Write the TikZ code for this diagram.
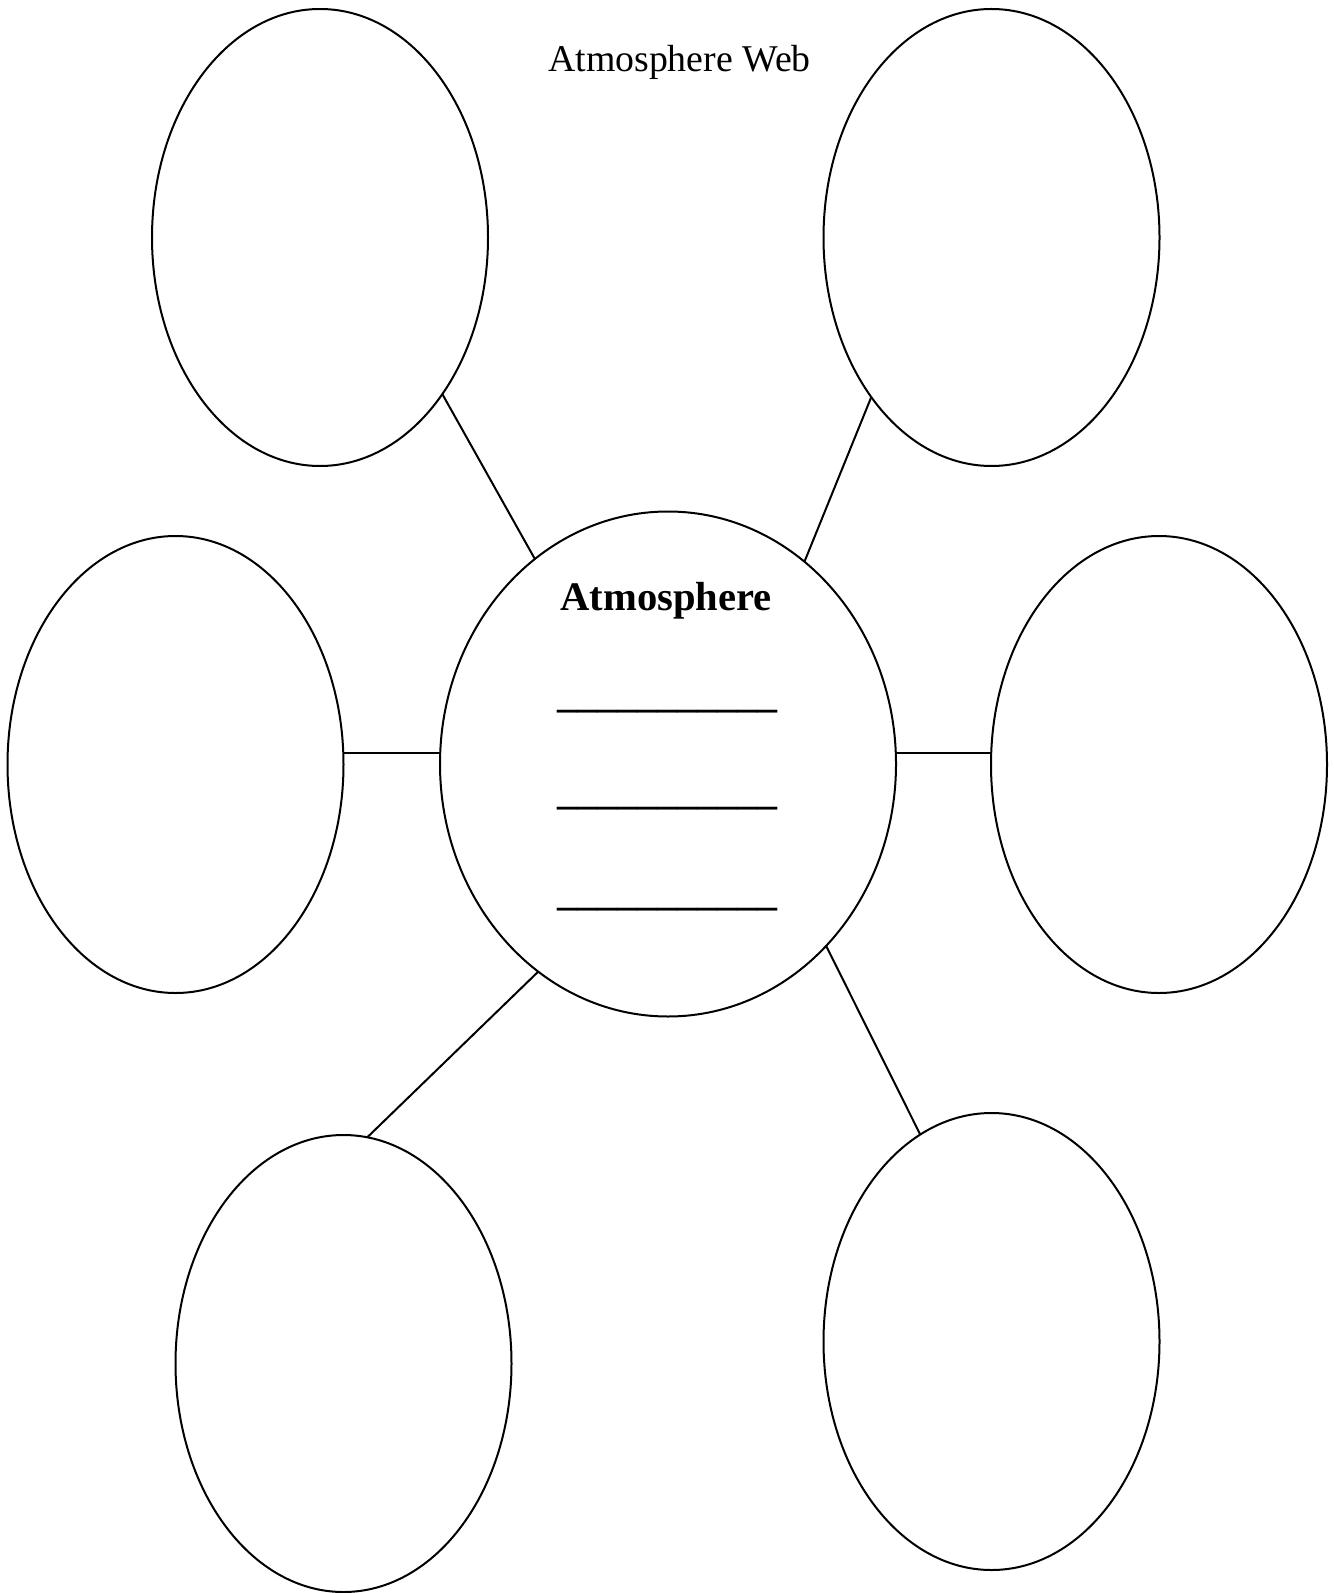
\documentclass[tikz,border=0pt]{standalone}
\usepackage{fontspec}
\setmainfont{Liberation Serif}
\usetikzlibrary{shapes.geometric}
\tikzset{
  bubble/.style={draw, ellipse, inner sep=0pt, outer sep=0pt,
    line width=1pt, minimum width=168pt, minimum height=228.5pt},
  spoke/.style={line width=1pt}
}
\begin{document}
\begin{tikzpicture}[x=0.5pt, y=-0.5pt]
        \useasboundingbox(0,0)rectangle(1333,1593);
        \node[bubble](tl)at(320,237.5){};
        \node[bubble](tr)at(991.5,237.5){};
        \node[bubble](ml)at(175.5,764.5){};
        \node[bubble](mr)at(1159,764.5){};
        \node[bubble](bl)at(343.5,1363.5){};
        \node[bubble](br)at(991.5,1341.5){};
        \node[bubble, minimum width=228pt, minimum height=252.5pt](c)at(668,764){};
        \coordinate(level)at(0,753);
        \draw node[anchor=base, font=\fontsize{18.9pt}{22pt}\selectfont](title)at(679.5,72){Atmosphere Web};
        \draw node[anchor=base, font=\fontsize{20.3pt}{24pt}\selectfont\bfseries](topic)at(666,610){Atmosphere};
        \foreach \y/\n in {707/a, 804/b, 905/c}
            \draw node[anchor=base, font=\fontsize{20pt}{24pt}\selectfont\bfseries](blank\n)at(667.5,\y){\_\_\_\_\_\_\_\_\_\_\_};
        \draw[spoke](tl.-52.3)--(c.123.1);
        \draw[spoke](tr.-127.6)--(c.56.9);
        \draw[spoke](ml.east|-level)--(c.west|-level);
        \draw[spoke](mr.west|-level)--(c.east|-level);
        \draw[spoke](c.-122.9)--(bl.84.1);
        \draw[spoke](c.-49.6)--(br.109.7);
    \end{tikzpicture}
\end{document}
